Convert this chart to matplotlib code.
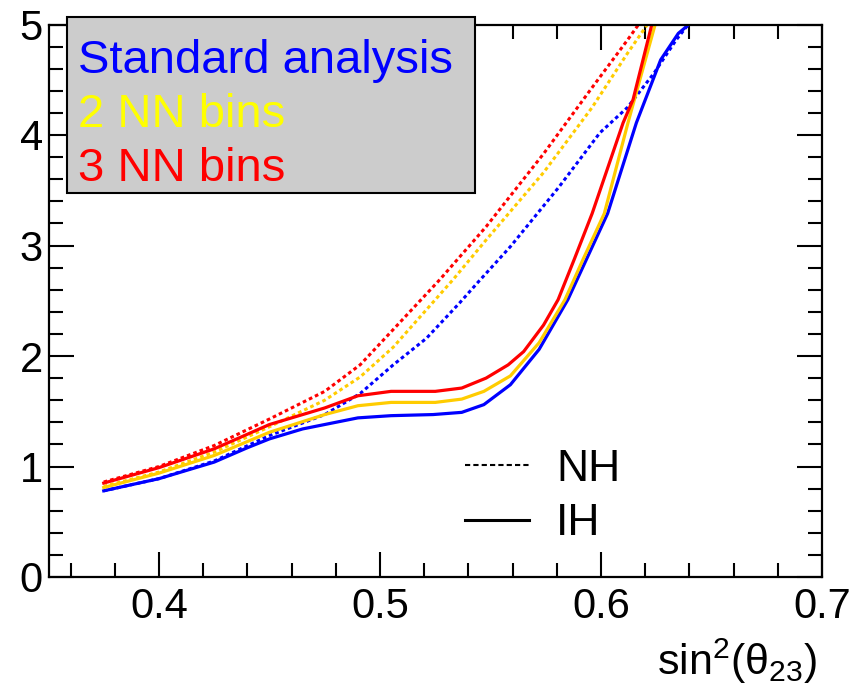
import matplotlib
matplotlib.use('Agg')
import matplotlib.pyplot as plt
from matplotlib.lines import Line2D
from matplotlib.patches import Rectangle
from matplotlib.ticker import MultipleLocator

plt.rcParams['font.family'] = ['Liberation Sans', 'DejaVu Sans']
plt.rcParams['mathtext.fontset'] = 'custom'
plt.rcParams['mathtext.rm'] = 'Liberation Sans'
plt.rcParams['mathtext.it'] = 'Liberation Sans:italic'

# IH (solid) curves
blue_ih_x = [0.375, 0.40, 0.425, 0.44, 0.45, 0.465, 0.475, 0.49, 0.505, 0.524, 0.537, 0.547,
             0.559, 0.572, 0.585, 0.594, 0.603, 0.616, 0.627, 0.635, 0.641]
blue_ih_y = [0.78, 0.89, 1.04, 1.17, 1.25, 1.34, 1.38, 1.44, 1.46, 1.47, 1.49, 1.56,
             1.74, 2.06, 2.51, 2.90, 3.29, 4.11, 4.68, 4.92, 5.02]

yellow_ih_x = [0.375, 0.40, 0.425, 0.45, 0.475, 0.49, 0.505, 0.525, 0.537, 0.547, 0.559,
               0.572, 0.5837, 0.592, 0.6015, 0.6122, 0.6245]
yellow_ih_y = [0.81, 0.94, 1.10, 1.31, 1.47, 1.55, 1.58, 1.58, 1.61, 1.68, 1.82,
               2.12, 2.51, 2.88, 3.29, 4.11, 5.0]

red_ih_x = [0.375, 0.40, 0.425, 0.45, 0.475, 0.49, 0.505, 0.525, 0.537, 0.548, 0.558, 0.565,
            0.574, 0.5806, 0.588, 0.596, 0.610, 0.6145, 0.623]
red_ih_y = [0.85, 0.99, 1.16, 1.38, 1.53, 1.64, 1.68, 1.68, 1.71, 1.80, 1.92, 2.04,
            2.28, 2.51, 2.88, 3.29, 4.11, 4.32, 5.0]

# NH (dashed) curves
blue_nh_x = [0.375, 0.40, 0.425, 0.45, 0.475, 0.491, 0.506, 0.521, 0.536, 0.544, 0.559,
             0.581, 0.5995, 0.612, 0.624, 0.634, 0.6395]
blue_nh_y = [0.78, 0.89, 1.05, 1.28, 1.47, 1.66, 1.92, 2.16, 2.48, 2.66, 2.99,
             3.53, 4.02, 4.25, 4.56, 4.86, 5.0]

yellow_nh_x = [0.375, 0.40, 0.425, 0.45, 0.475, 0.491, 0.506, 0.533, 0.548, 0.574, 0.596,
               0.612, 0.621]
yellow_nh_y = [0.82, 0.95, 1.13, 1.36, 1.60, 1.81, 2.08, 2.69, 3.05, 3.66, 4.25,
               4.74, 5.0]

red_nh_x = [0.375, 0.40, 0.425, 0.45, 0.475, 0.491, 0.506, 0.527, 0.548, 0.574, 0.596,
            0.612, 0.617]
red_nh_y = [0.86, 1.00, 1.19, 1.43, 1.68, 1.92, 2.24, 2.69, 3.17, 3.83, 4.43,
            4.86, 5.0]

legend_labels = ['Standard analysis', '2 NN bins', '3 NN bins']
legend_colors = ['#0000ff', '#ffff00', '#ff0000']

blue = '#0000ff'
gold = '#ffcc00'
red = '#ff0000'
dot_style = (0, (1.2, 1.0))

fig = plt.figure(figsize=(8.5, 6.89), dpi=100)
ax = fig.add_axes([48.5 / 850, 112 / 689, 773.5 / 850, 552.5 / 689])

ax.plot(blue_nh_x, blue_nh_y, color=blue, lw=2.2, ls=dot_style)
ax.plot(yellow_nh_x, yellow_nh_y, color=gold, lw=2.2, ls=dot_style)
ax.plot(red_nh_x, red_nh_y, color=red, lw=2.2, ls=dot_style)
ax.plot(blue_ih_x, blue_ih_y, color=blue, lw=2.3)
ax.plot(yellow_ih_x, yellow_ih_y, color=gold, lw=2.3)
ax.plot(red_ih_x, red_ih_y, color=red, lw=2.3)

ax.set_xlim(0.35, 0.7)
ax.set_ylim(0, 5)
ax.xaxis.set_major_locator(MultipleLocator(0.1))
ax.xaxis.set_minor_locator(MultipleLocator(0.02))
ax.yaxis.set_major_locator(MultipleLocator(1))
ax.yaxis.set_minor_locator(MultipleLocator(0.2))
ax.xaxis.set_major_formatter(matplotlib.ticker.FuncFormatter(lambda v, p: f'{v:g}'))
ax.tick_params(which='both', direction='in', top=True, right=True, width=1.5, labelsize=30)
ax.tick_params(which='major', length=18)
ax.tick_params(which='minor', length=10)
ax.tick_params(axis='x', pad=7)
ax.tick_params(axis='y', pad=4)
for s in ax.spines.values():
    s.set_linewidth(1.6)

ax.set_xlabel(r'$\mathregular{sin^{2}(\theta_{23})}$', fontsize=31)
ax.xaxis.set_label_coords(0.9935, -0.177)
ax.xaxis.label.set_horizontalalignment('right')
ax.xaxis.label.set_verticalalignment('baseline')

# NH / IH line-style legend
handles = [Line2D([], [], color='black', lw=1.5, ls=(0, (2.5, 1.5))),
           Line2D([], [], color='black', lw=2.2)]
ax.legend(handles, ['NH', 'IH'], loc='upper left', bbox_to_anchor=(0.5385, 0.232),
          frameon=False, fontsize=32, handlelength=1.45, handletextpad=0.6,
          labelspacing=0.3, borderpad=0, borderaxespad=0)

# colour legend box
box = Rectangle((66.7 / 850, (689 - 193) / 689), 408.3 / 850, 176 / 689,
                transform=fig.transFigure, facecolor='#cccccc', edgecolor='black',
                lw=1.5, zorder=5)
fig.add_artist(box)
for i, (lab, col) in enumerate(zip(legend_labels, legend_colors)):
    fig.text(78 / 850, (689 - 73 - 54 * i) / 689, lab, color=col, fontsize=34,
             va='baseline', ha='left', zorder=6)

fig.savefig('out.png', dpi=100)
